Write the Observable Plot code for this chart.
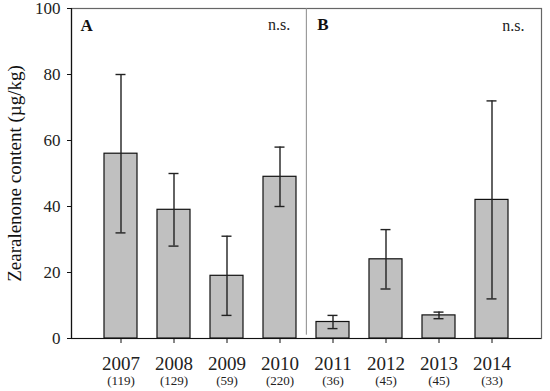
<!DOCTYPE html>
<html>
<head>
<meta charset="utf-8">
<script src="https://cdn.jsdelivr.net/npm/d3@7"></script>
<script src="https://cdn.jsdelivr.net/npm/@observablehq/plot@0.6"></script>
<style>
  html, body { margin: 0; padding: 0; background: #fff; }
  #chart svg { display: block; }
</style>
</head>
<body>
<div id="chart"></div>
<script>
const years = ["2007", "2008", "2009", "2010", "2011", "2012", "2013", "2014"];
const counts = [119, 129, 59, 220, 36, 45, 45, 33];
const means = [56, 39, 19, 49, 5, 24, 7, 42];
const lower = [32, 28, 7, 40, 3, 15, 6, 12];
const upper = [80, 50, 31, 58, 7, 33, 8, 72];
const yTicks = [0, 20, 40, 60, 80, 100];
const yLabel = "Zearalenone content (µg/kg)";
const panelLabels = ["A", "B"];
const sigLabels = ["n.s.", "n.s."];

const data = years.map((y, i) => ({year: y, n: counts[i], mean: means[i], lo: lower[i], hi: upper[i]}));

const W = 550, H = 391;
const mL = 71, mR = 9, mT = 8, mB = 53;
const pInner = 0.38, pOuter = 0.6;
const step = (W - mL - mR) / (years.length - pInner + 2 * pOuter);
const font = "'Palatino Linotype', 'Book Antiqua', Palatino, 'URW Palladio L', 'Liberation Serif', 'DejaVu Serif', serif";

const chart = Plot.plot({
  width: W,
  height: H,
  marginLeft: mL,
  marginRight: mR,
  marginTop: mT,
  marginBottom: mB,
  style: {fontFamily: font, fontSize: "16px", color: "#222", background: "#fff"},
  x: {type: "band", domain: years, paddingInner: pInner, paddingOuter: pOuter, align: 0.5},
  y: {domain: [0, 100]},
  marks: [
    Plot.frame({stroke: "#666", strokeWidth: 1.2}),
    Plot.frame({anchor: "left", stroke: "#111", strokeWidth: 1.2}),
    Plot.barY(data, {x: "year", y: "mean", fill: "#c0c0c0", stroke: "#111", strokeWidth: 1.2}),
    Plot.ruleX(data, {x: "year", y1: "lo", y2: "hi", stroke: "#222", strokeWidth: 1.4}),
    Plot.tickY(data, {x: "year", y: "hi", stroke: "#222", strokeWidth: 1.4, insetLeft: 11.5, insetRight: 11.5}),
    Plot.tickY(data, {x: "year", y: "lo", stroke: "#222", strokeWidth: 1.4, insetLeft: 11.5, insetRight: 11.5}),
    Plot.ruleX(["2011"], {x: d => d, y1: 1, y2: 100, dx: -step / 2, stroke: "#8a8a8a", strokeWidth: 1}),
    Plot.ruleY([0], {stroke: "#111", strokeWidth: 1.2}),
    Plot.axisY({ticks: yTicks, tickSize: 4, tickPadding: 7, fontSize: 17, stroke: "#111", label: null}),
    Plot.text([yLabel], {frameAnchor: "left", rotate: -90, dx: -57, fontSize: 19, fill: "#111", textAnchor: "middle", lineAnchor: "middle"}),
    Plot.axisX({tickSize: 5, tickPadding: 13, fontSize: 19, stroke: "#111", label: null, tickFormat: d => d}),
    Plot.axisX({tickSize: 0, tickPadding: 37, fontSize: 13, label: null, tickFormat: d => "(" + counts[years.indexOf(d)] + ")"}),
    Plot.text([panelLabels[0]], {frameAnchor: "top-left", dx: 9, dy: 17, textAnchor: "start", lineAnchor: "middle", fontSize: 17, fontWeight: "bold", fill: "#111"}),
    Plot.text([panelLabels[1]], {x: () => "2011", y: 95, dx: -step / 2 + 11, textAnchor: "start", fontSize: 17, fontWeight: "bold", fill: "#111"}),
    Plot.text([sigLabels[0]], {x: () => "2011", y: 95, dx: -step / 2 - 16, textAnchor: "end", fontSize: 16, fill: "#222"}),
    Plot.text([sigLabels[1]], {frameAnchor: "top-right", dx: -17, dy: 17, textAnchor: "end", lineAnchor: "middle", fontSize: 16, fill: "#222"})
  ]
});
document.getElementById("chart").appendChild(chart);
</script>
</body>
</html>
